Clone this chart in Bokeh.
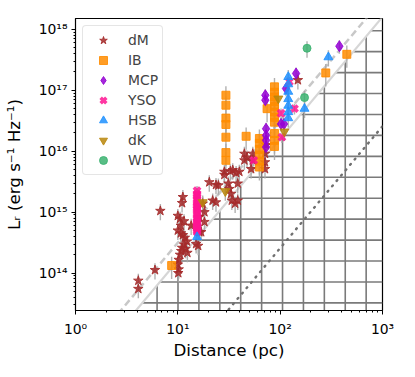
import numpy as np
from bokeh.plotting import figure
from bokeh.models import ColumnDataSource, FixedTicker, CustomJSTickFormatter
from bokeh.embed import file_html
from bokeh.resources import INLINE

# ---------------- data (distance in pc, L_R in erg/s/Hz) ----------------
dM_dist = [6.75, 4.11, 4.11, 5.98, 11.2, 11.0, 10.5, 10.7, 10.0, 10.7, 11.2, 11.7, 12.3, 11.5,
           11.0, 10.8, 10.5, 10.2, 10.0, 10.2, 10.1, 11.5, 11.9, 12.4, 10.0, 18.2, 17.5, 16.9,
           18.2, 16.2, 20.3, 23.6, 21.9, 24.9, 23.6, 31.2, 31.8, 33.1, 33.7, 36.3, 38.5, 28.5,
           32.6, 37.1, 38.5, 28.5, 39.9, 44.7, 44.7, 54.0, 54.0, 52.0, 71.1, 71.1, 71.1, 72.8,
           47.4, 149, 13.5, 16.2, 15.1, 15.8, 34.4]
dM_lum = [1.05e15, 7.5e13, 5.5e13, 1.12e14, 1.77e15, 1.41e15, 7.8e14, 6.0e14, 5.0e14, 4.5e14,
          4.2e14, 3.8e14, 3.3e14, 2.95e14, 2.6e14, 2.3e14, 2.0e14, 1.65e14, 1.38e14, 1.15e14,
          1.0e14, 7.1e14, 2.5e14, 2.15e14, 8.7e14, 1.0e15, 1.38e15, 4.7e14, 6.9e14, 8.3e14,
          3.1e15, 2.8e15, 1.55e15, 2.75e15, 1.45e15, 2.95e15, 2.4e15, 2.0e15, 1.55e15, 1.38e15,
          1.55e15, 4.6e15, 4.7e15, 4.4e15, 2.95e15, 4.1e15, 4.6e15, 9.1e15, 7.1e15, 9.1e15,
          7.1e15, 5.1e15, 9.1e15, 6.6e15, 5.1e15, 1.26e16, 7.9e15, 1.47e17, 6.0e14, 4.7e14,
          3.0e14, 2.8e14, 4.9e15]

IB_dist = [29.5, 29.5, 29.5, 29.5, 29.5, 29.5, 29.5, 46.5, 62.7,
           88, 88, 88, 88, 88, 88, 88, 88, 88, 88, 88, 74.5,
           62.7, 62.7, 62.7, 62.7, 62.7, 279, 448, 8.7]
IB_lum = [8.3e16, 5.7e16, 3.5e16, 2.75e16, 1.7e16, 9.5e15, 7.1e15, 1.76e16, 1.62e16,
          1.14e17, 9.3e16, 7.8e16, 6.5e16, 5.4e16, 4.4e16, 3.6e16, 3.0e16, 1.95e16, 1.51e16,
          1.2e16, 5.0e16, 1.35e16, 1.07e16, 8.7e15, 6.9e15, 5.5e15, 1.93e17, 3.9e17, 1.33e14]

MCP_dist = [71.6, 71.6, 143, 379, 114, 72.8, 72.8, 72.8, 72.8, 102, 109]
MCP_lum = [8.3e16, 6.9e16, 1.89e17, 5.3e17, 1.07e17, 2.34e16, 1.82e16, 1.51e16, 1.17e16,
           2.8e16, 2.8e16]

YSO_dist = [102, 138, 104, 123, 55.2, 15.4, 15.4, 15.4, 15.4, 15.4, 15.4, 15.4, 15.4, 15.4,
            15.4, 15.4, 15.4, 15.4, 15.4, 15.4, 15.4, 15.4, 15.4, 15.4, 15.4, 15.4, 15.4]
YSO_lum = [4.2e16, 5.0e16, 1.7e16, 1.38e17, 7.1e15, 4.7e14, 5.0e14, 5.3e14, 5.6e14, 5.8e14,
           6.3e14, 6.7e14, 7.0e14, 7.6e14, 8.2e14, 9.1e14, 1.0e15, 1.1e15, 1.2e15, 1.27e15,
           1.32e15, 1.45e15, 1.6e15, 1.78e15, 1.9e15, 2.0e15, 2.25e15]

HSB_dist = [296, 120, 120, 120, 120, 120, 120, 120, 173, 15.4]
HSB_lum = [3.5e17, 1.66e17, 1.26e17, 9.5e16, 7.2e16, 5.6e16, 4.4e16, 3.5e16, 5.0e16, 3.9e14]

dK_dist = [96, 110, 17.5, 29.1]
dK_lum = [7.3e16, 2.1e16, 1.45e15, 2.2e15]

WD_dist = [183, 173]
WD_lum = [4.9e17, 7.6e16]

# typical relative uncertainty of L_R per class
rel_err = {"dM": 0.3, "IB": 0.4, "MCP": 0.25, "YSO": 0.2, "HSB": 0.3, "dK": 0.3, "WD": 0.3}

# luminosity limits L = k * d^2 (d in pc)
limit_solid = 1.6e12
limit_dashed = 3.16e12
limit_dotted = 2.57e10

x_lo, x_hi = 1.0, 1000.0
y_lo, y_hi = 2.43e13, 1.51e18

FONT = "DejaVu Sans"

p = figure(width=407, height=369, x_axis_type="log", y_axis_type="log",
           x_range=(x_lo, x_hi), y_range=(y_lo, y_hi),
           output_backend="svg", toolbar_location=None,
           min_border_left=74, min_border_right=25, min_border_top=18, min_border_bottom=59)
p.background_fill_color = "white"
p.border_fill_color = "white"
p.xgrid.visible = False
p.ygrid.visible = False
p.outline_line_color = "black"
p.outline_line_width = 1.2

# ---------------- hatched region below the solid limit ----------------
hx = 10 ** np.arange(0.593, 3.0, 0.2043)
hx = hx[limit_solid * hx ** 2 > y_lo]
p.segment(x0=hx, y0=[y_lo] * len(hx), x1=hx, y1=limit_solid * hx ** 2,
          line_color="#7a7a7a", line_width=1.6)
hy = 10 ** np.arange(13.51, 18.1, 0.3437)
hy = hy[hy < y_hi]
p.segment(x0=np.sqrt(hy / limit_solid), y0=hy, x1=[x_hi] * len(hy), y1=hy,
          line_color="#7a7a7a", line_width=1.6)

# ---------------- limit lines ----------------
xl = [x_lo, x_hi]
p.line(xl, [limit_solid * v ** 2 for v in xl], line_color="#d6d6d6", line_width=2.2)
p.line(xl, [limit_dashed * v ** 2 for v in xl], line_color="#c8c8c8", line_width=2.5,
       line_dash="7 4")
p.line(xl, [limit_dotted * v ** 2 for v in xl], line_color="#707070", line_width=2.4,
       line_dash="1 6", line_cap="round")

classes = [
    ("dM", dM_dist, dM_lum, "star", "#a52a2a", 10),
    ("IB", IB_dist, IB_lum, "square", "#ff8c00", 8),
    ("MCP", MCP_dist, MCP_lum, "diamond", "#9400d3", 11),
    ("YSO", YSO_dist, YSO_lum, "x", "#ff1493", 9),
    ("HSB", HSB_dist, HSB_lum, "triangle", "#1e90ff", 9),
    ("dK", dK_dist, dK_lum, "inverted_triangle", "#b8860b", 9),
    ("WD", WD_dist, WD_lum, "circle", "#3cb371", 8),
]

# error bars first
for name, d, L, marker, color, size in classes:
    e = rel_err[name]
    src = ColumnDataSource(dict(x=d, lo=[v * (1 - e) for v in L], hi=[v * (1 + e) for v in L]))
    p.segment(x0="x", y0="lo", x1="x", y1="hi", source=src,
              line_color="#a8a8a8", line_width=1.4, line_alpha=0.9)

for name, d, L, marker, color, size in classes:
    src = ColumnDataSource(dict(x=d, y=L))
    kw = dict(line_width=3.5) if marker == "x" else dict(line_width=1)
    p.scatter("x", "y", source=src, marker=marker, size=size, fill_color=color,
              line_color=color, fill_alpha=0.85, line_alpha=0.85, legend_label=name, **kw)

# ---------------- axes ----------------
fmt = CustomJSTickFormatter(code="""
const s = {"0":"⁰","1":"¹","2":"²","3":"³","4":"⁴","5":"⁵","6":"⁶","7":"⁷","8":"⁸","9":"⁹","-":"⁻"};
const e = Math.round(Math.log10(tick));
return "10" + String(e).split("").map(c => s[c]).join("");
""")

x_major = [1, 10, 100, 1000]
x_minor = [m * 10 ** k for k in range(0, 3) for m in range(2, 10)]
y_major = [1e14, 1e15, 1e16, 1e17, 1e18]
y_minor = [m * 10.0 ** k for k in range(13, 19) for m in range(2, 10)]

p.xaxis.ticker = FixedTicker(ticks=x_major, minor_ticks=x_minor)
p.yaxis.ticker = FixedTicker(ticks=y_major, minor_ticks=y_minor)
for ax in (p.xaxis, p.yaxis):
    ax.formatter = fmt
    ax.major_tick_in = 0
    ax.major_tick_out = 4
    ax.minor_tick_in = 0
    ax.minor_tick_out = 2
    ax.major_tick_line_color = "black"
    ax.minor_tick_line_color = "black"
    ax.axis_line_color = "black"
    ax.major_label_text_font = FONT
    ax.major_label_text_font_size = "13.9px"
    ax.major_label_text_color = "black"
    ax.axis_label_text_font = FONT
    ax.axis_label_text_font_size = "16.7px"
    ax.axis_label_text_font_style = "normal"
    ax.axis_label_text_color = "black"

p.xaxis.axis_label = "Distance (pc)"
p.yaxis.axis_label = "Lᵣ (erg s⁻¹ Hz⁻¹)"
p.xaxis.major_label_standoff = 6
p.xaxis.axis_label_standoff = 0
p.yaxis.major_label_standoff = 4
p.yaxis.axis_label_standoff = 12

# ---------------- legend ----------------
lg = p.legend[0]
lg.location = "top_left"
lg.margin = 7
lg.padding = 4
lg.spacing = 0
lg.label_height = 20
lg.glyph_height = 20
lg.glyph_width = 32
lg.label_standoff = 9
lg.label_text_font = FONT
lg.label_text_font_size = "13.9px"
lg.border_line_color = "#cccccc"
lg.border_line_width = 1
lg.background_fill_alpha = 0.8
if "border_radius" in lg.properties():
    lg.border_radius = 4

open("out.html", "w").write(file_html(p, INLINE))
